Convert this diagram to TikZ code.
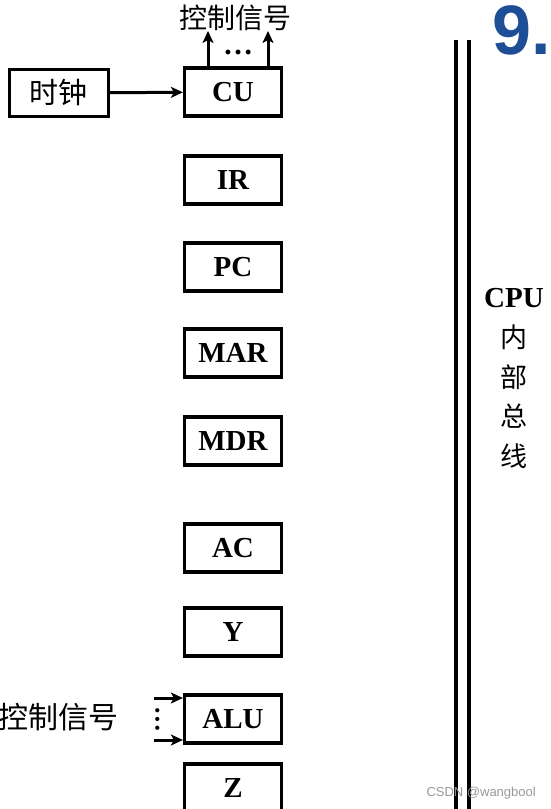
\documentclass[tikz,border=0pt]{standalone}
\usepackage{fontspec}
\setmainfont{Liberation Serif}
\newfontfamily\cjk{Noto Sans CJK SC}
\newfontfamily\wmfont{Liberation Sans}
\usetikzlibrary{arrows.meta}
\definecolor{nineblue}{RGB}{30,78,150}
\begin{document}
\begin{tikzpicture}[x=1pt,y=-1pt,
  reg/.style={draw,line width=3.2pt,minimum width=97pt,minimum height=48pt,inner sep=0pt,
    font=\fontsize{29}{29}\selectfont\bfseries},
  cjktext/.style={inner sep=0pt,font=\fontsize{27}{27}\selectfont\cjk},
  arr/.style={line width=3pt,-{Stealth[length=12pt,width=11pt,inset=3pt]}},
  bus/.style={line width=3.2pt}]
\clip (0,0) rectangle (550,809);
\fill[white] (0,0) rectangle (550,809);
% registers
\node[reg] (cu)  at (233,92)  {CU};
\node[reg] (ir)  at (233,180) {IR};
\node[reg] (pc)  at (233,267) {PC};
\node[reg] (mar) at (233,353) {MAR};
\node[reg] (mdr) at (233,441) {MDR};
\node[reg] (ac)  at (233,548) {AC};
\node[reg] (y)   at (233,632) {Y};
\node[reg] (alu) at (233,719) {ALU};
\node[reg] (z)   at (233,788) {Z};
% clock
\node[draw,line width=3.2pt,minimum width=99pt,minimum height=47pt,inner sep=0pt,
  font=\fontsize{29}{29}\selectfont\cjk] (clk) at (59,93) {时钟};
\draw[arr] (clk) -- (cu);
% CU control signals
\coordinate (c1) at (208,31);
\coordinate (c2) at (268,31);
\draw[arr] (cu.north -| c1) -- (c1);
\draw[arr] (cu.north -| c2) -- (c2);
\node[inner sep=0pt,font=\fontsize{30}{30}\selectfont\bfseries] (cudots) at (238,52) {\dots};
\node[cjktext,font=\fontsize{28}{28}\selectfont\cjk] (ctl1) at (235,18) {控制信号};
% ALU control signals
\coordinate (a1) at (154,698);
\coordinate (a2) at (154,740);
\draw[arr] (a1) -- (a1 -| alu.west);
\draw[arr] (a2) -- (a2 -| alu.west);
\node[inner sep=0pt,rotate=90,font=\fontsize{26}{26}\selectfont\bfseries] (aludots) at (158,719) {\dots};
\node[cjktext,anchor=east,font=\fontsize{30}{30}\selectfont\cjk] (ctl2) at (119,717) {控制信号};
% bus
\coordinate (b1t) at (456,40);
\coordinate (b1b) at (456,812);
\coordinate (b2t) at (469,40);
\coordinate (b2b) at (469,812);
\draw[bus] (b1t) -- (b1b);
\draw[bus] (b2t) -- (b2b);
\node[inner sep=0pt,font=\fontsize{29}{29}\selectfont\bfseries] (cpu) at (514,298) {CPU};
\node[cjktext] (n1) at (514,337) {内};
\node[cjktext] (n2) at (514,377) {部};
\node[cjktext] (n3) at (514,416) {总};
\node[cjktext] (n4) at (514,456) {线};
% heading fragment
\node[anchor=west,inner sep=0pt,text=nineblue,font=\fontsize{70}{70}\selectfont\wmfont\bfseries] (nine) at (492,30) {9.};
% watermark
\node[anchor=east,inner sep=0pt,text=gray!80,font=\fontsize{13}{13}\selectfont\wmfont] (wm) at (536,793) {CSDN @wangbool};
\end{tikzpicture}
\end{document}
